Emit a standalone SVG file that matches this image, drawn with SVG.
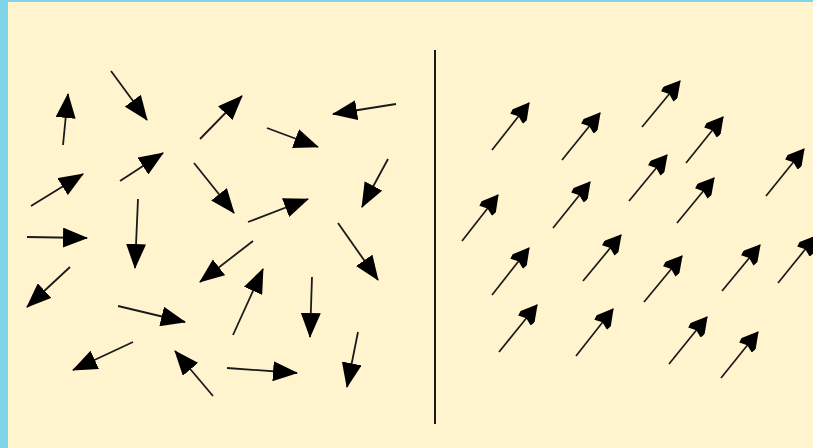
<svg xmlns="http://www.w3.org/2000/svg" width="813" height="448" viewBox="0 0 813 448">
<style>
.a{stroke:#1a1a1a;stroke-width:1.8;fill:none;marker-end:url(#h)}
.b{stroke:#1a1a1a;stroke-width:1.7;fill:none;marker-end:url(#k)}
</style>
<defs>
<marker id="h" viewBox="0 0 25 20" refX="24" refY="10" markerWidth="25" markerHeight="20" markerUnits="userSpaceOnUse" orient="auto">
<path d="M0,0 L25,10 L0,20 Z" fill="#000"/>
</marker>
<marker id="k" viewBox="0 0 21 18" refX="20" refY="9" markerWidth="21" markerHeight="18" markerUnits="userSpaceOnUse" orient="auto">
<path d="M0,1 L5,0 L21,9 L5,18 L0,17 L3,9 Z" fill="#000"/>
</marker>
</defs>
<rect width="813" height="448" fill="#7ED4E8"/>
<rect x="8" y="2" width="805" height="446" fill="#FFF4CE"/>
<line id="divider" x1="435" y1="50" x2="435" y2="424" stroke="#1a1a1a" stroke-width="2"/>
<g id="left-field">
<line class="a" x1="63" y1="145" x2="68" y2="94"/>
<line class="a" x1="111" y1="71" x2="147" y2="120"/>
<line class="a" x1="200" y1="139" x2="242" y2="96"/>
<line class="a" x1="396" y1="104" x2="333" y2="114"/>
<line class="a" x1="267" y1="128" x2="318" y2="147"/>
<line class="a" x1="31" y1="206" x2="83" y2="174"/>
<line class="a" x1="120" y1="181" x2="163" y2="153"/>
<line class="a" x1="194" y1="163" x2="234" y2="213"/>
<line class="a" x1="388" y1="159" x2="362" y2="207"/>
<line class="a" x1="248" y1="222" x2="308" y2="199"/>
<line class="a" x1="138" y1="199" x2="135" y2="268"/>
<line class="a" x1="338" y1="223" x2="378" y2="280"/>
<line class="a" x1="27" y1="237" x2="87" y2="238"/>
<line class="a" x1="70" y1="267" x2="27" y2="307"/>
<line class="a" x1="253" y1="241" x2="200" y2="282"/>
<line class="a" x1="233" y1="335" x2="263" y2="269"/>
<line class="a" x1="312" y1="277" x2="310" y2="337"/>
<line class="a" x1="118" y1="306" x2="185" y2="322"/>
<line class="a" x1="133" y1="342" x2="73" y2="370"/>
<line class="a" x1="213" y1="396" x2="175" y2="351"/>
<line class="a" x1="227" y1="368" x2="297" y2="373"/>
<line class="a" x1="358" y1="332" x2="347" y2="387"/>
</g>
<g id="right-field">
<line class="b" x1="492" y1="150" x2="529" y2="103"/>
<line class="b" x1="562" y1="160" x2="600" y2="113"/>
<line class="b" x1="642" y1="127" x2="680" y2="81"/>
<line class="b" x1="686" y1="163" x2="723" y2="117"/>
<line class="b" x1="766" y1="196" x2="804" y2="149"/>
<line class="b" x1="629" y1="201" x2="667" y2="155"/>
<line class="b" x1="677" y1="223" x2="714" y2="178"/>
<line class="b" x1="553" y1="228" x2="590" y2="182"/>
<line class="b" x1="462" y1="241" x2="498" y2="195"/>
<line class="b" x1="492" y1="295" x2="529" y2="248"/>
<line class="b" x1="583" y1="281" x2="621" y2="235"/>
<line class="b" x1="644" y1="302" x2="682" y2="256"/>
<line class="b" x1="722" y1="291" x2="760" y2="245"/>
<line class="b" x1="778" y1="283" x2="816" y2="236"/>
<line class="b" x1="499" y1="352" x2="537" y2="305"/>
<line class="b" x1="576" y1="356" x2="613" y2="309"/>
<line class="b" x1="669" y1="364" x2="707" y2="317"/>
<line class="b" x1="721" y1="378" x2="758" y2="332"/>
</g>
</svg>
